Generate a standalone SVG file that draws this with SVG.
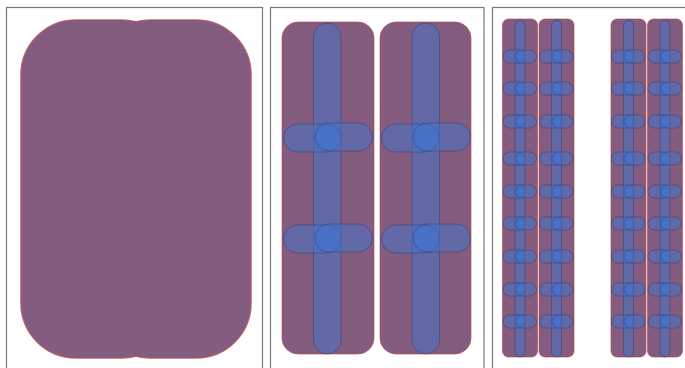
<svg xmlns="http://www.w3.org/2000/svg" width="685" height="368" viewBox="0 0 685 368">
<style>
.frame{fill:#fff;stroke:#7a7a7a;stroke-width:1.2}
.base{fill:#845C80}
.edge{fill:none;stroke:#c0443c;stroke-width:1.6;stroke-opacity:0.8}
.col{fill:#845C80;stroke:#b8453f;stroke-width:0.9;stroke-opacity:0.7}
.pill{fill:#3f75d0;fill-opacity:0.48;stroke:#2c3a6e;stroke-width:0.8;stroke-opacity:0.6}
</style>
<rect width="685" height="368" fill="#fff"/>
<g id="panel1">
<rect class="frame" x="6.5" y="7.5" width="256" height="370"/>
<rect class="edge" x="21" y="20" width="155" height="338" rx="55"/>
<rect class="edge" x="96" y="20" width="155" height="338" rx="55"/>
<rect class="base" x="21" y="20" width="155" height="338" rx="55"/>
<rect class="base" x="96" y="20" width="155" height="338" rx="55"/>
</g>
<g id="panel2">
<rect class="frame" x="270.5" y="7.5" width="213.5" height="370"/>
<g id="p2c1">
<rect class="col" x="282" y="22" width="92" height="332" rx="16"/>
<rect class="pill" x="313.5" y="23" width="27.5" height="331" rx="13.75"/>
<rect class="pill" x="283.5" y="124" width="57.5" height="28" rx="14"/>
<rect class="pill" x="315" y="123" width="57.5" height="28" rx="14"/>
<rect class="pill" x="283.5" y="225" width="57.5" height="28" rx="14"/>
<rect class="pill" x="315" y="224" width="57.5" height="28" rx="14"/>
</g>
<g id="p2c2">
<rect class="col" x="380" y="22" width="91" height="332" rx="16"/>
<rect class="pill" x="412" y="23" width="27.5" height="331" rx="13.75"/>
<rect class="pill" x="381.5" y="124" width="57.5" height="28" rx="14"/>
<rect class="pill" x="413" y="123" width="57.5" height="28" rx="14"/>
<rect class="pill" x="381.5" y="225" width="57.5" height="28" rx="14"/>
<rect class="pill" x="413" y="224" width="57.5" height="28" rx="14"/>
</g>
</g>
<g id="panel3">
<rect class="frame" x="492.5" y="7.5" width="200" height="370"/>
<g id="p3c1">
<rect class="col" x="502.5" y="19" width="35" height="338" rx="6"/>
<rect class="pill" x="515" y="20" width="10" height="337" rx="5"/>
</g>
<g id="p3c2">
<rect class="col" x="539" y="19" width="35" height="338" rx="6"/>
<rect class="pill" x="551.5" y="20" width="10" height="337" rx="5"/>
</g>
<g id="p3c3">
<rect class="col" x="611" y="19" width="35" height="338" rx="6"/>
<rect class="pill" x="623.5" y="20" width="10" height="337" rx="5"/>
</g>
<g id="p3c4">
<rect class="col" x="647.5" y="19" width="35" height="338" rx="6"/>
<rect class="pill" x="660" y="20" width="10" height="337" rx="5"/>
</g>
<g id="p3rows">
<g id="r1" transform="translate(0,50)">
<rect class="pill" x="503" y="0" width="22" height="13" rx="6.5"/><rect class="pill" x="515.5" y="0" width="21" height="13" rx="6.5"/>
<rect class="pill" x="539.5" y="0" width="22" height="13" rx="6.5"/><rect class="pill" x="552" y="0" width="21" height="13" rx="6.5"/>
<rect class="pill" x="611.5" y="0" width="22" height="13" rx="6.5"/><rect class="pill" x="624" y="0" width="21" height="13" rx="6.5"/>
<rect class="pill" x="648" y="0" width="22" height="13" rx="6.5"/><rect class="pill" x="660.5" y="0" width="21" height="13" rx="6.5"/>
</g>
<use href="#r1" y="32"/>
<use href="#r1" y="65"/>
<use href="#r1" y="102"/>
<use href="#r1" y="135"/>
<use href="#r1" y="167"/>
<use href="#r1" y="200"/>
<use href="#r1" y="233"/>
<use href="#r1" y="265"/>
</g>
</g>
</svg>
